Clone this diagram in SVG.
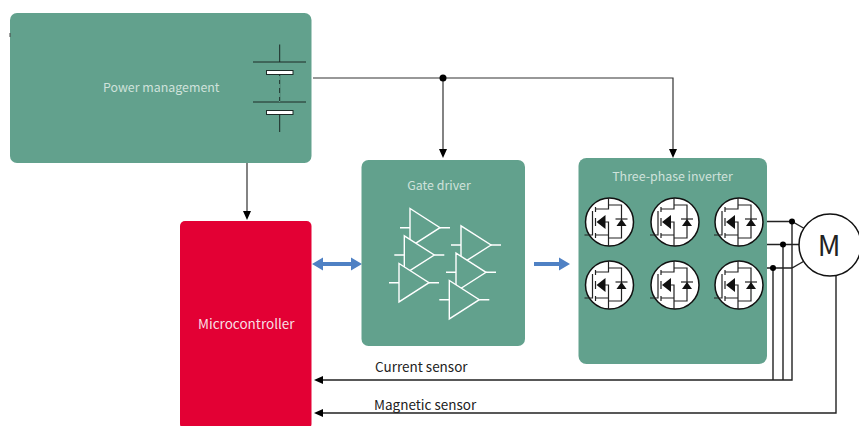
<svg xmlns="http://www.w3.org/2000/svg" xmlns:xlink="http://www.w3.org/1999/xlink" width="859" height="426" viewBox="0 0 859 426">
<style>
text{font-family:"Noto Sans CJK SC","Noto Sans","Open Sans",sans-serif;font-size:13.5px}
.lt{fill:#cfe2db}
.dk{fill:#222}
.box{fill:#62a18d}
.wire{fill:none;stroke:#333;stroke-width:1.2}
.phase{fill:none;stroke:#222;stroke-width:1.400}
.dot{fill:#000}
.blue{fill:none;stroke:#4f81c4;stroke-width:4}
.bluehead{fill:#4f81c4}
.head{fill:#000}
.amp{fill:#62a18d;stroke:#fff;stroke-width:1.400}
.ampl{fill:none;stroke:#fff;stroke-width:1.400}
.fet{fill:none;stroke:#222;stroke-width:1.200}
.batt{fill:none;stroke:#1c2b27;stroke-width:1}
</style>
<defs>
<g id="mosfet">
<circle r="24" fill="#fff" stroke="#111" stroke-width="1.500"/>
<path class="fet" d="M-25 13H-17V-11M-14-15V-10M-14-4V4M-14 11V16M-14-13H-1V-24M-1-17H12V16H-1M-14 13H-1V24M-1 13V0H-8"/>
<path class="fet" d="M6-3H18"/>
<path d="M-13 0L-4-7V7Z" fill="#111"/>
<path d="M12-3L7 4H17Z" fill="#111"/>
</g>
<g id="amp">
<path class="ampl" d="M-40 0H-30M0 0H10"/>
<path class="amp" d="M-30-19.200V19.200L0 0Z"/>
</g>
</defs>
<g id="connectors">
<path class="wire" d="M313 78H673V150M443 78V150M247 163V212"/>
<path class="head" d="M443 158L439 149H447ZM673 158L669 149H677ZM247 220L243 211H251Z"/>
<circle class="dot" cx="443" cy="78" r="3.500"/>
<path class="blue" d="M322 264H352M534 264H560"/>
<path class="bluehead" d="M312 264L323 257.500V270.500ZM362 264L351 257.500V270.500ZM570 264L559 257.500V270.500Z"/>
<path class="phase" d="M767 221.500H792L806 229.500M767 244.500H800M767 268H792L806 260M792 221.500V380H323M783 244.500V380M773 268V380M836 276V413H323"/>
<path class="head" d="M314 380L323 376V384ZM314 413L323 409V417Z"/>
<circle class="dot" cx="792" cy="221.500" r="3"/>
<circle class="dot" cx="783" cy="244.500" r="3"/>
<circle class="dot" cx="773" cy="268" r="3"/>
</g>
<g id="power-management">
<rect class="box" x="10" y="13" width="301.500" height="150" rx="7"/>
<path d="M10 33V37" stroke="#444" stroke-width="1"/>
<text class="lt" x="103" y="92" style="font-size:12.400px">Power management</text>
<path class="batt" d="M279.700 44.500V62M253 62H306M279.700 75V102M253 102H306M279.700 115V132"/>
<path d="M279.700 75V102" fill="none" stroke="#62a18d" stroke-width="1.200" stroke-dasharray="0 1 4 4 4 4"/>
<rect x="266.500" y="70.500" width="26.500" height="4" fill="#fff" stroke="#1c2b27"/>
<rect x="266.500" y="110.500" width="26.500" height="4" fill="#fff" stroke="#1c2b27"/>
</g>
<g id="microcontroller">
<rect x="180" y="221" width="131.500" height="208" rx="5" fill="#e30034"/>
<text x="198" y="329" fill="#f8dfe3">Microcontroller</text>
</g>
<g id="gate-driver">
<rect class="box" x="361.500" y="160" width="163.500" height="186" rx="7"/>
<text class="lt" x="439" y="190" text-anchor="middle" style="font-size:12.400px">Gate driver</text>
<use xlink:href="#amp" href="#amp" x="440" y="227.700"/>
<use xlink:href="#amp" href="#amp" x="434.300" y="255"/>
<use xlink:href="#amp" href="#amp" x="429" y="282.700"/>
<use xlink:href="#amp" href="#amp" x="491" y="245"/>
<use xlink:href="#amp" href="#amp" x="486" y="272.300"/>
<use xlink:href="#amp" href="#amp" x="479.300" y="299.700"/>
</g>
<g id="three-phase-inverter">
<rect class="box" x="578.500" y="158" width="188.500" height="206" rx="8"/>
<text class="lt" x="672.500" y="181" text-anchor="middle" style="font-size:12.400px">Three-phase inverter</text>
<use xlink:href="#mosfet" href="#mosfet" x="609.500" y="222"/>
<use xlink:href="#mosfet" href="#mosfet" x="675" y="222"/>
<use xlink:href="#mosfet" href="#mosfet" x="739" y="222"/>
<use xlink:href="#mosfet" href="#mosfet" x="609.500" y="285"/>
<use xlink:href="#mosfet" href="#mosfet" x="675" y="285"/>
<use xlink:href="#mosfet" href="#mosfet" x="739" y="285"/>
</g>
<g id="motor">
<circle cx="830" cy="245" r="31" fill="#fff" stroke="#111" stroke-width="1.500"/>
<text class="dk" x="829" y="256" text-anchor="middle" style="font-size:28px">M</text>
</g>
<g id="labels">
<text class="dk" x="375" y="372">Current sensor</text>
<text class="dk" x="374" y="410">Magnetic sensor</text>
</g>
</svg>
